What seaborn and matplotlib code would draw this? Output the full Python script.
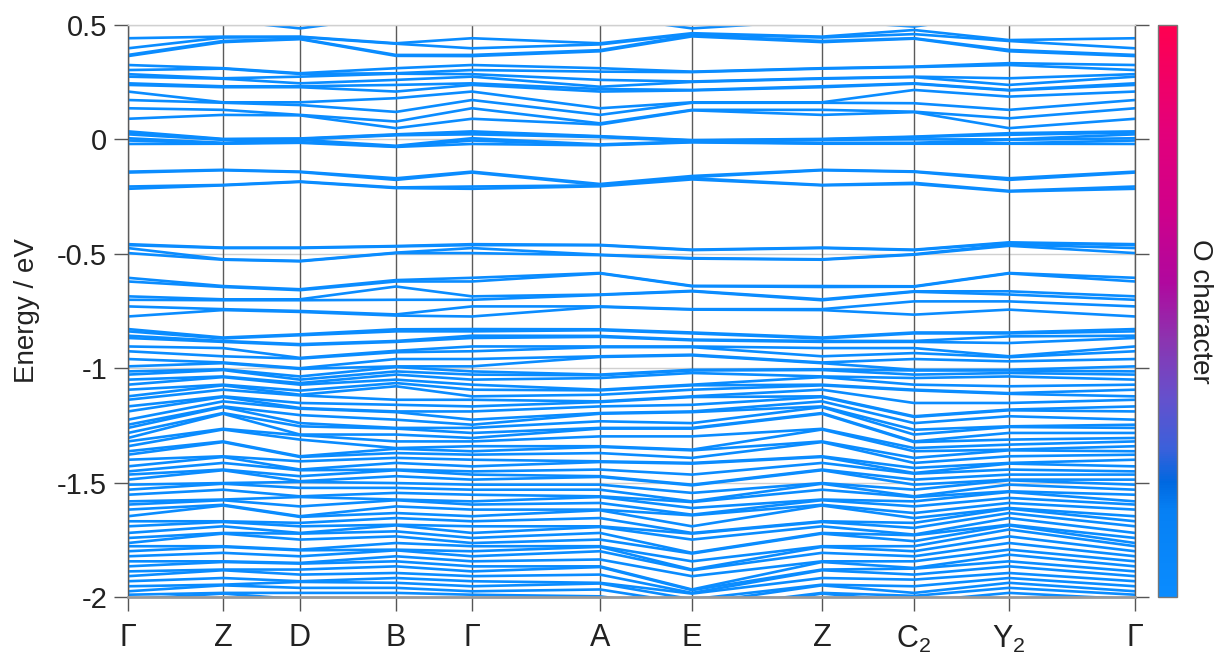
import matplotlib
matplotlib.use("Agg")
import matplotlib.pyplot as plt
import numpy as np
import pandas as pd
import seaborn as sns
from matplotlib.colors import LinearSegmentedColormap
from matplotlib.colorbar import ColorbarBase
from matplotlib.colors import Normalize

# ---------------- data ----------------
path_labels = ['Γ', 'Z', 'D', 'B', 'Γ', 'A', 'E', 'Z',
               r'C$_\mathregular{2}$', r'Y$_\mathregular{2}$', 'Γ']
path_dist = [0, 95, 172, 268, 344, 472, 564, 694, 786, 881, 1007]
path_points = ['G', 'Z', 'D', 'B', 'G', 'A', 'E', 'Z', 'C2', 'Y2', 'G']

ytick_vals = [0.5, 0, -0.5, -1, -1.5, -2]
ytick_text = ['0.5', '0', '-0.5', '-1', '-1.5', '-2']

# band energies (eV) at each high-symmetry point (upper part, then lower dense part)
E_G = [0.55, 0.442, 0.398, 0.369, 0.364,
       0.325, 0.303, 0.285, 0.274, 0.245, 0.238, 0.209, 0.172, 0.136, 0.090,
       0.035, 0.030, 0.022, 0.005, -0.005, -0.020,
       -0.141, -0.145, -0.206, -0.216,
       -0.458, -0.462, -0.475, -0.497,
       -0.605, -0.621, -0.686, -0.701, -0.730, -0.774,
       -0.829, -0.839, -0.858, -0.868, -0.905, -0.926,
       -0.960, -0.992, -1.014, -1.028, -1.050, -1.072, -1.094, -1.123, -1.138, -1.167,
       -1.189, -1.225, -1.247, -1.261, -1.283, -1.305, -1.320, -1.341, -1.363, -1.378,
       -1.400, -1.429, -1.451, -1.465, -1.487, -1.509, -1.531, -1.553, -1.582, -1.596,
       -1.618, -1.647, -1.669, -1.691, -1.720, -1.742, -1.764, -1.778, -1.800, -1.822,
       -1.844, -1.866, -1.888, -1.909, -1.931, -1.953, -1.975, -1.990, -2.010, -2.030]

E_Z = [0.52, 0.449, 0.445, 0.430, 0.425,
       0.311, 0.309, 0.267, 0.265, 0.232, 0.228, 0.162, 0.160, 0.129, 0.107,
       0.002, 0.000, -0.002, -0.015, -0.017, -0.019,
       -0.133, -0.135, -0.199, -0.201,
       -0.473, -0.475, -0.524, -0.526,
       -0.641, -0.645, -0.699, -0.703, -0.742, -0.746,
       -0.866, -0.870, -0.881, -0.885, -0.912, -0.948,
       -0.975, -0.978, -1.005, -1.008, -1.036, -1.039, -1.072, -1.075, -1.094, -1.123,
       -1.126, -1.145, -1.167, -1.170, -1.196, -1.199, -1.265, -1.268, -1.320, -1.323,
       -1.385, -1.388, -1.414, -1.443, -1.446, -1.502, -1.505, -1.531, -1.574, -1.577,
       -1.597, -1.600, -1.669, -1.672, -1.691, -1.720, -1.723, -1.778, -1.781, -1.807,
       -1.844, -1.847, -1.880, -1.883, -1.917, -1.946, -1.949, -1.982, -1.985, -2.020]

E_D = [0.485, 0.449, 0.447, 0.440, 0.438,
       0.289, 0.286, 0.274, 0.245, 0.232, 0.228, 0.162, 0.150, 0.107, 0.105,
       0.004, 0.002, 0.000, -0.002, -0.012, -0.015,
       -0.141, -0.143, -0.184, -0.186,
       -0.473, -0.475, -0.531, -0.533,
       -0.655, -0.659, -0.699, -0.703, -0.750, -0.754,
       -0.852, -0.856, -0.895, -0.899, -0.955, -0.958,
       -1.000, -1.003, -1.036, -1.050, -1.065, -1.072, -1.098, -1.116, -1.119, -1.152,
       -1.174, -1.177, -1.205, -1.240, -1.254, -1.290, -1.293, -1.312, -1.385, -1.388,
       -1.407, -1.443, -1.446, -1.472, -1.494, -1.497, -1.523, -1.560, -1.563, -1.604,
       -1.647, -1.650, -1.676, -1.691, -1.720, -1.723, -1.749, -1.793, -1.796, -1.822,
       -1.851, -1.854, -1.880, -1.902, -1.931, -1.934, -1.960, -1.982, -2.010, -2.040]

E_B = [0.54, 0.420, 0.418, 0.369, 0.365,
       0.311, 0.289, 0.287, 0.260, 0.238, 0.209, 0.180, 0.120, 0.078, 0.049,
       0.022, 0.020, 0.018, -0.028, -0.031, -0.033,
       -0.170, -0.177, -0.210, -0.213,
       -0.466, -0.468, -0.495, -0.497,
       -0.615, -0.621, -0.643, -0.701, -0.765, -0.770,
       -0.830, -0.839, -0.881, -0.885, -0.924, -0.930,
       -0.960, -0.992, -0.995, -1.014, -1.028, -1.050, -1.065, -1.079, -1.138, -1.160,
       -1.189, -1.192, -1.225, -1.261, -1.264, -1.290, -1.320, -1.349, -1.352, -1.371,
       -1.392, -1.414, -1.443, -1.446, -1.472, -1.502, -1.523, -1.545, -1.574, -1.577,
       -1.604, -1.633, -1.655, -1.684, -1.687, -1.713, -1.735, -1.764, -1.793, -1.796,
       -1.822, -1.844, -1.866, -1.895, -1.917, -1.938, -1.960, -1.982, -2.010, -2.030]

E_A = [0.54, 0.420, 0.415, 0.390, 0.385,
       0.311, 0.296, 0.260, 0.230, 0.220, 0.209, 0.136, 0.107, 0.070, 0.065,
       0.014, 0.012, 0.010, -0.022, -0.024, -0.026,
       -0.195, -0.199, -0.201, -0.205,
       -0.461, -0.463, -0.504, -0.506,
       -0.584, -0.586, -0.678, -0.680, -0.730, -0.732,
       -0.830, -0.834, -0.859, -0.863, -0.905, -0.908,
       -0.948, -0.951, -1.028, -1.031, -1.043, -1.094, -1.097, -1.116, -1.145, -1.148,
       -1.167, -1.196, -1.199, -1.232, -1.261, -1.264, -1.298, -1.341, -1.344, -1.371,
       -1.407, -1.410, -1.443, -1.472, -1.475, -1.509, -1.531, -1.560, -1.563, -1.589,
       -1.618, -1.621, -1.655, -1.691, -1.694, -1.720, -1.749, -1.778, -1.781, -1.800,
       -1.836, -1.866, -1.869, -1.902, -1.938, -1.941, -1.967, -1.997, -2.020, -2.050]

E_E = [0.485, 0.464, 0.460, 0.455, 0.450,
       0.296, 0.294, 0.253, 0.251, 0.216, 0.214, 0.162, 0.160, 0.129, 0.127,
       -0.003, -0.005, -0.007, -0.009, -0.011, -0.013,
       -0.160, -0.165, -0.170, -0.175,
       -0.482, -0.484, -0.519, -0.521,
       -0.640, -0.642, -0.662, -0.664, -0.742, -0.744,
       -0.844, -0.848, -0.875, -0.878, -0.905, -0.908,
       -0.941, -0.944, -1.007, -1.010, -1.021, -1.072, -1.075, -1.094, -1.123, -1.126,
       -1.160, -1.189, -1.192, -1.240, -1.261, -1.264, -1.298, -1.356, -1.359, -1.392,
       -1.414, -1.417, -1.465, -1.509, -1.512, -1.545, -1.582, -1.585, -1.611, -1.640,
       -1.643, -1.691, -1.720, -1.723, -1.749, -1.807, -1.810, -1.844, -1.880, -1.883,
       -1.909, -1.967, -1.970, -1.982, -1.985, -2.010, -2.030, -2.050, -2.070, -2.090]

E_C2 = [0.493, 0.478, 0.460, 0.442, 0.440,
        0.318, 0.316, 0.274, 0.272, 0.245, 0.243, 0.216, 0.158, 0.121, 0.119,
        0.012, 0.010, 0.000, -0.015, -0.017, -0.019,
        -0.140, -0.142, -0.190, -0.195,
        -0.482, -0.484, -0.502, -0.504,
        -0.642, -0.644, -0.664, -0.666, -0.708, -0.766,
        -0.844, -0.848, -0.881, -0.885, -0.912, -0.934,
        -0.960, -1.007, -1.010, -1.028, -1.043, -1.072, -1.094, -1.097, -1.152, -1.210,
        -1.213, -1.240, -1.269, -1.290, -1.320, -1.323, -1.349, -1.363, -1.392, -1.414,
        -1.436, -1.458, -1.461, -1.487, -1.509, -1.531, -1.560, -1.563, -1.582, -1.604,
        -1.633, -1.655, -1.676, -1.698, -1.727, -1.730, -1.756, -1.778, -1.800, -1.822,
        -1.844, -1.873, -1.876, -1.902, -1.924, -1.953, -1.982, -1.995, -2.020, -2.040]

E_Y2 = [0.55, 0.434, 0.430, 0.391, 0.385,
        0.333, 0.325, 0.267, 0.238, 0.216, 0.214, 0.187, 0.129, 0.092, 0.049,
        0.027, 0.020, 0.000, -0.002, -0.017, -0.019,
        -0.170, -0.177, -0.225, -0.228,
        -0.450, -0.453, -0.460, -0.465,
        -0.584, -0.586, -0.664, -0.678, -0.708, -0.744,
        -0.844, -0.848, -0.861, -0.890, -0.948, -0.952,
        -0.970, -1.007, -1.010, -1.021, -1.036, -1.079, -1.109, -1.112, -1.152, -1.181,
        -1.184, -1.210, -1.254, -1.257, -1.283, -1.312, -1.334, -1.356, -1.359, -1.385,
        -1.414, -1.417, -1.443, -1.465, -1.487, -1.490, -1.509, -1.538, -1.541, -1.567,
        -1.589, -1.611, -1.614, -1.633, -1.655, -1.684, -1.687, -1.705, -1.735, -1.764,
        -1.793, -1.815, -1.844, -1.866, -1.895, -1.917, -1.938, -1.960, -1.982, -2.020]

# O character colormap stops
cmap_stops = [0.0, 0.15, 0.20, 0.26, 0.35, 0.45, 0.55, 0.68, 0.82, 1.0]
cmap_colors = ['#0a8cff', '#0680f4', '#0068e0', '#3c60da', '#6650cc',
               '#8c34b0', '#b0089e', '#d0008a', '#e4007a', '#ff0050']
o_character = 0.0

# ---------------- build table ----------------
energies = {'G': E_G, 'Z': E_Z, 'D': E_D, 'B': E_B, 'A': E_A,
            'E': E_E, 'C2': E_C2, 'Y2': E_Y2}
nb = min(len(v) for v in energies.values())
rows = []
for k, p in zip(path_dist, path_points):
    vals = sorted(energies[p][:nb], reverse=True)
    for b, e in enumerate(vals):
        rows.append((b, k, e))
df = pd.DataFrame(rows, columns=['band', 'k', 'E'])

# ---------------- plot ----------------
sns.set_style('white')
plt.rcParams['font.family'] = ['Liberation Sans', 'DejaVu Sans']
plt.rcParams['mathtext.fontset'] = 'custom'
plt.rcParams['mathtext.rm'] = 'Liberation Sans'

cmap = LinearSegmentedColormap.from_list('ochar', list(zip(cmap_stops, cmap_colors)))

fig = plt.figure(figsize=(12.21, 6.57), dpi=100)
ax = fig.add_axes([0.1048, 0.0913, 0.8248, 0.8707])

for y in ytick_vals:
    ax.axhline(y, color='#d0d0d0', lw=1.0, zorder=0)
for x in path_dist:
    ax.axvline(x, color='#5a5a5a', lw=1.0, zorder=1)

sns.lineplot(data=df, x='k', y='E', units='band', estimator=None,
             color=cmap(o_character), lw=1.9, ax=ax, legend=False, zorder=2)

ax.set_xlim(path_dist[0], path_dist[-1])
ax.set_ylim(-2, 0.5)
ax.set_xticks(path_dist)
ax.set_xticklabels(path_labels, fontsize=22, color='#222222')
ax.set_yticks(ytick_vals)
ax.set_yticklabels(ytick_text, fontsize=21, color='#222222')
ax.tick_params(axis='y', direction='out', length=10, width=1, color='#555555',
               left=True, right=True, pad=5)
ax.tick_params(axis='x', direction='out', length=10, width=1, color='#555555',
               bottom=True, pad=9)
ax.set_xlabel('')
ax.set_ylabel('Energy / eV', fontsize=20, color='#222222', labelpad=12)

for s in ['left', 'right']:
    ax.spines[s].set_color('#5a5a5a')
    ax.spines[s].set_linewidth(1.0)
ax.spines['top'].set_color('#d0d0d0')
ax.spines['top'].set_linewidth(1.0)
ax.spines['bottom'].set_color('#999999')
ax.spines['bottom'].set_linewidth(2.0)

cax = fig.add_axes([0.9484, 0.0913, 0.0156, 0.8707])
cb = ColorbarBase(cax, cmap=cmap, norm=Normalize(0, 1), orientation='vertical')
cb.set_ticks([])
cb.outline.set_edgecolor('#777777')
cb.outline.set_linewidth(1.0)
cb.set_label('O character', rotation=270, fontsize=20, color='#222222', labelpad=26)

fig.savefig('out.png', dpi=100)
